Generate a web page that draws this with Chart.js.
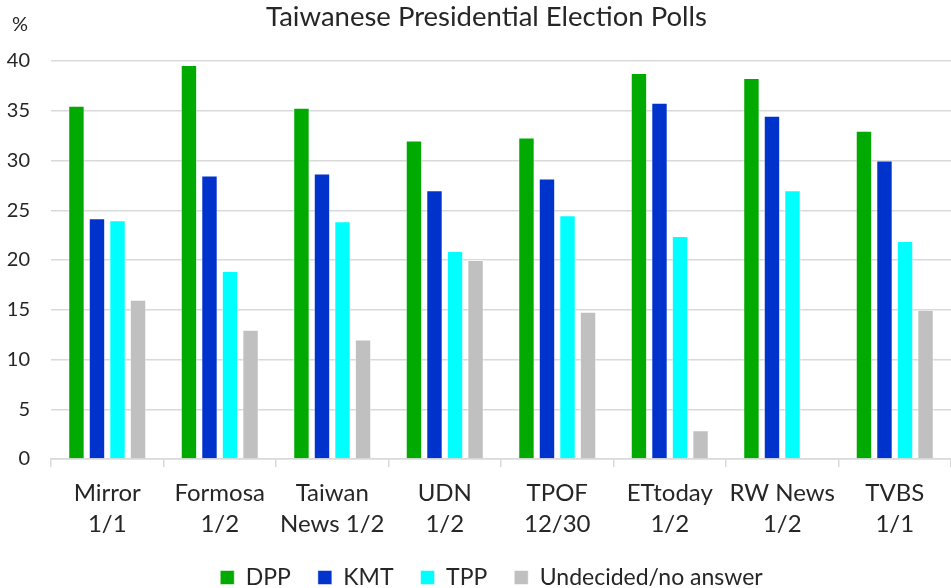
<!DOCTYPE html>
<html>
<head>
<meta charset="utf-8">
<script src="https://cdn.jsdelivr.net/npm/chart.js@4.4.1/dist/chart.umd.min.js"></script>
<style>
  html, body { margin: 0; padding: 0; background: #fff; overflow: hidden; }
  #wrap { position: relative; width: 951px; height: 588px; }
</style>
</head>
<body>
<div id="wrap"><canvas id="chart"></canvas></div>
<script>
// Datos del gráfico
const encuestas = [
  ['Mirror', '1/1'],
  ['Formosa', '1/2'],
  ['Taiwan', 'News 1/2'],
  ['UDN', '1/2'],
  ['TPOF', '12/30'],
  ['ETtoday', '1/2'],
  ['RW News', '1/2'],
  ['TVBS', '1/1']
];
const dpp = [35.5, 39.6, 35.3, 32.0, 32.3, 38.8, 38.3, 33.0];
const kmt = [24.2, 28.5, 28.7, 27.0, 28.2, 35.8, 34.5, 30.0];
const tpp = [24.0, 18.9, 23.9, 20.9, 24.5, 22.4, 27.0, 21.9];
const indecisos = [16.0, 13.0, 12.0, 20.0, 14.8, 2.9, null, 15.0];
const ticksY = [0, 5, 10, 15, 20, 25, 30, 35, 40];

const fuente = 'Lato, "Open Sans", sans-serif';
const gris = '#d9d9d9';
const texto = '#262626';

// Texto "%" arriba del eje Y
const etiquetaPorcentaje = {
  id: 'etiquetaPorcentaje',
  afterDraw(chart) {
    const ctx = chart.ctx;
    ctx.save();
    ctx.font = '20px ' + fuente;
    ctx.fillStyle = texto;
    ctx.textAlign = 'center';
    ctx.textBaseline = 'middle';
    ctx.fillText('%', 20, 25);
    ctx.restore();
  }
};

// Ajustes finos: altura de la leyenda y centrado del título y la leyenda
const ajusteCajas = {
  id: 'ajusteCajas',
  beforeUpdate(chart) {
    const leyenda = chart.legend;
    if (!leyenda || leyenda._ajustada) return;
    const fitOriginal = leyenda.fit;
    leyenda.fit = function () {
      fitOriginal.call(this);
      this.height = 49;
    };
    leyenda._ajustada = true;
  },
  afterLayout(chart) {
    const t = chart.titleBlock;
    if (t) { t.left += 11; t.right += 11; }
    const l = chart.legend;
    if (l) {
      l.left += 16; l.right += 16;
      l.legendHitBoxes.forEach(b => { b.left += 16; });
    }
  }
};

function serie(label, data, color) {
  return {
    label: label,
    data: data,
    backgroundColor: color,
    borderColor: 'rgba(255,255,255,0.5)',
    borderWidth: 1,
    categoryPercentage: 0.73,
    barPercentage: 0.8
  };
}

new Chart(document.getElementById('chart'), {
  type: 'bar',
  data: {
    labels: encuestas,
    datasets: [
      serie('DPP', dpp, '#00aa00'),
      serie('KMT', kmt, '#0033cc'),
      serie('TPP', tpp, '#00ffff'),
      serie('Undecided/no answer', indecisos, '#c0c0c0')
    ]
  },
  options: {
    responsive: true,
    maintainAspectRatio: false,
    animation: false,
    layout: { padding: { top: 1, right: 0, bottom: 0, left: 0 } },
    plugins: {
      title: {
        display: true,
        text: 'Taiwanese Presidential Election Polls',
        color: texto,
        font: { family: fuente, size: 27.5, weight: 'normal', lineHeight: 1.2 },
        padding: { top: 0, bottom: 27 }
      },
      legend: {
        position: 'bottom',
        labels: {
          color: texto,
          font: { family: fuente, size: 23 },
          boxWidth: 14,
          boxHeight: 14,
          padding: 27
        }
      },
      tooltip: { enabled: false }
    },
    scales: {
      x: {
        afterFit(scale) { scale.height = 80; },
        grid: {
          display: true,
          drawOnChartArea: false,
          drawTicks: true,
          tickLength: 8,
          offset: true,
          color: gris,
          lineWidth: 1.5
        },
        border: { display: true, color: gris, width: 1.5 },
        ticks: {
          color: texto,
          font: { family: fuente, size: 24, lineHeight: 1.28 },
          padding: 11,
          maxRotation: 0,
          autoSkip: false
        }
      },
      y: {
        min: 0,
        max: 40,
        afterBuildTicks(scale) {
          scale.ticks = ticksY.map(v => ({ value: v }));
        },
        afterFit(scale) { scale.width = 51; },
        grid: { color: gris, lineWidth: 1.5, drawTicks: false },
        border: { display: false },
        ticks: {
          color: texto,
          font: { family: fuente, size: 20 },
          padding: 21
        }
      }
    }
  },
  plugins: [etiquetaPorcentaje, ajusteCajas]
});
</script>
</body>
</html>
